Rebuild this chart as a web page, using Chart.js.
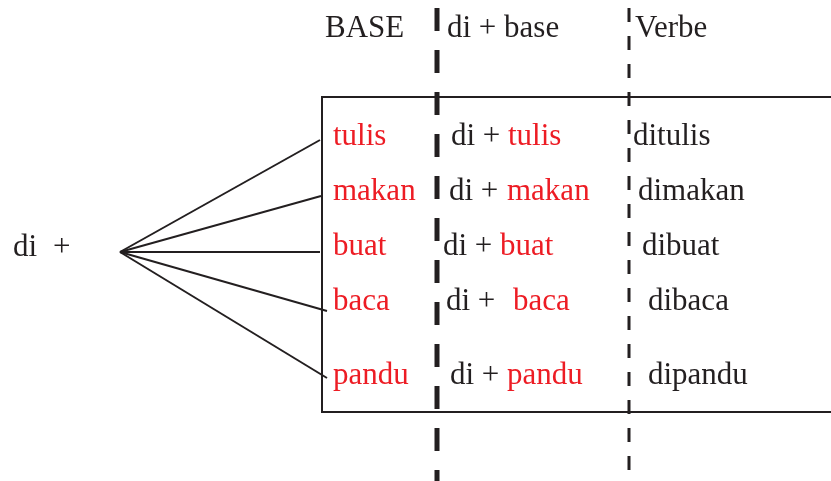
<!DOCTYPE html>
<html>
<head>
<meta charset="utf-8">
<script src="https://cdn.jsdelivr.net/npm/chart.js@4.4.1/dist/chart.umd.min.js"></script>
<style>
    html, body { margin: 0; padding: 0; background: #ffffff; }
    #wrap { width: 831px; height: 481px; position: relative; }
</style>
</head>
<body>
<div id="wrap"><canvas id="diagram"></canvas></div>
<script>
// --- Data ---
const prefix = 'di';
const headers = ['BASE', 'di + base', 'Verbe'];
const bases = ['tulis', 'makan', 'buat', 'baca', 'pandu'];
const verbs = ['ditulis', 'dimakan', 'dibuat', 'dibaca', 'dipandu'];

// --- Layout (canvas units, y grows downward) ---
const rowY = [145, 200, 255, 310, 384];
const fanEndX = [320, 321, 320, 327, 327];
const fanEndY = [140, 196, 252, 311, 378];
const fanOrigin = { x: 120, y: 252 };
const midX = [451, 449, 443, 446, 450];
const midWordX = [508, 507, 500, 513, 507];
const verbX = [633, 638, 642, 648, 648];

const RED = '#ed1c24';
const INK = '#231f20';
const FONT = '31px "Liberation Serif", "Times New Roman", serif';

// fan lines from "di +" to each base
const fanSets = bases.map((b, i) => ({
    label: 'fan-' + b,
    data: [{ x: fanOrigin.x, y: fanOrigin.y }, { x: fanEndX[i], y: fanEndY[i] }],
    showLine: true, borderColor: INK, borderWidth: 2, pointRadius: 0
}));

const boxSet = {
    label: 'box',
    data: [{ x: 840, y: 97 }, { x: 322, y: 97 }, { x: 322, y: 412 }, { x: 840, y: 412 }],
    showLine: true, borderColor: INK, borderWidth: 2, pointRadius: 0
};

const thickDash = {
    label: 'sep1',
    data: [{ x: 437, y: 8 }, { x: 437, y: 481 }],
    showLine: true, borderColor: INK, borderWidth: 5, borderDash: [23, 19], pointRadius: 0
};

const thinDash = {
    label: 'sep2',
    data: [{ x: 629, y: 8 }, { x: 629, y: 473 }],
    showLine: true, borderColor: INK, borderWidth: 3, borderDash: [14, 14], pointRadius: 0
};

// --- Text plugin ---
const textPlugin = {
    id: 'diagramText',
    afterDatasetsDraw(chart) {
        const { ctx, scales } = chart;
        const px = v => scales.x.getPixelForValue(v);
        const py = v => scales.y.getPixelForValue(v);
        ctx.save();
        ctx.font = FONT;
        ctx.textBaseline = 'alphabetic';
        ctx.textAlign = 'left';

        ctx.fillStyle = INK;
        ctx.fillText(headers[0], px(325), py(37));
        ctx.fillText(headers[1], px(447), py(37));
        ctx.fillText(headers[2], px(635), py(37));

        ctx.fillText(prefix, px(13), py(256));
        ctx.fillText('+', px(53), py(256));

        bases.forEach((b, i) => {
            ctx.fillStyle = RED;
            ctx.fillText(b, px(333), py(rowY[i]));
            ctx.fillStyle = INK;
            ctx.fillText(prefix + ' +', px(midX[i]), py(rowY[i]));
            ctx.fillStyle = RED;
            ctx.fillText(b, px(midWordX[i]), py(rowY[i]));
            ctx.fillStyle = INK;
            ctx.fillText(verbs[i], px(verbX[i]), py(rowY[i]));
        });
        ctx.restore();
    }
};

new Chart(document.getElementById('diagram'), {
    type: 'scatter',
    data: { datasets: [...fanSets, boxSet, thickDash, thinDash] },
    options: {
        responsive: true,
        maintainAspectRatio: false,
        animation: false,
        layout: { padding: 0 },
        scales: {
            x: { type: 'linear', min: 0, max: 831, display: false },
            y: { type: 'linear', min: 0, max: 481, reverse: true, display: false }
        },
        plugins: { legend: { display: false }, tooltip: { enabled: false } },
        elements: { line: { borderCapStyle: 'butt' } }
    },
    plugins: [textPlugin]
});
</script>
</body>
</html>
